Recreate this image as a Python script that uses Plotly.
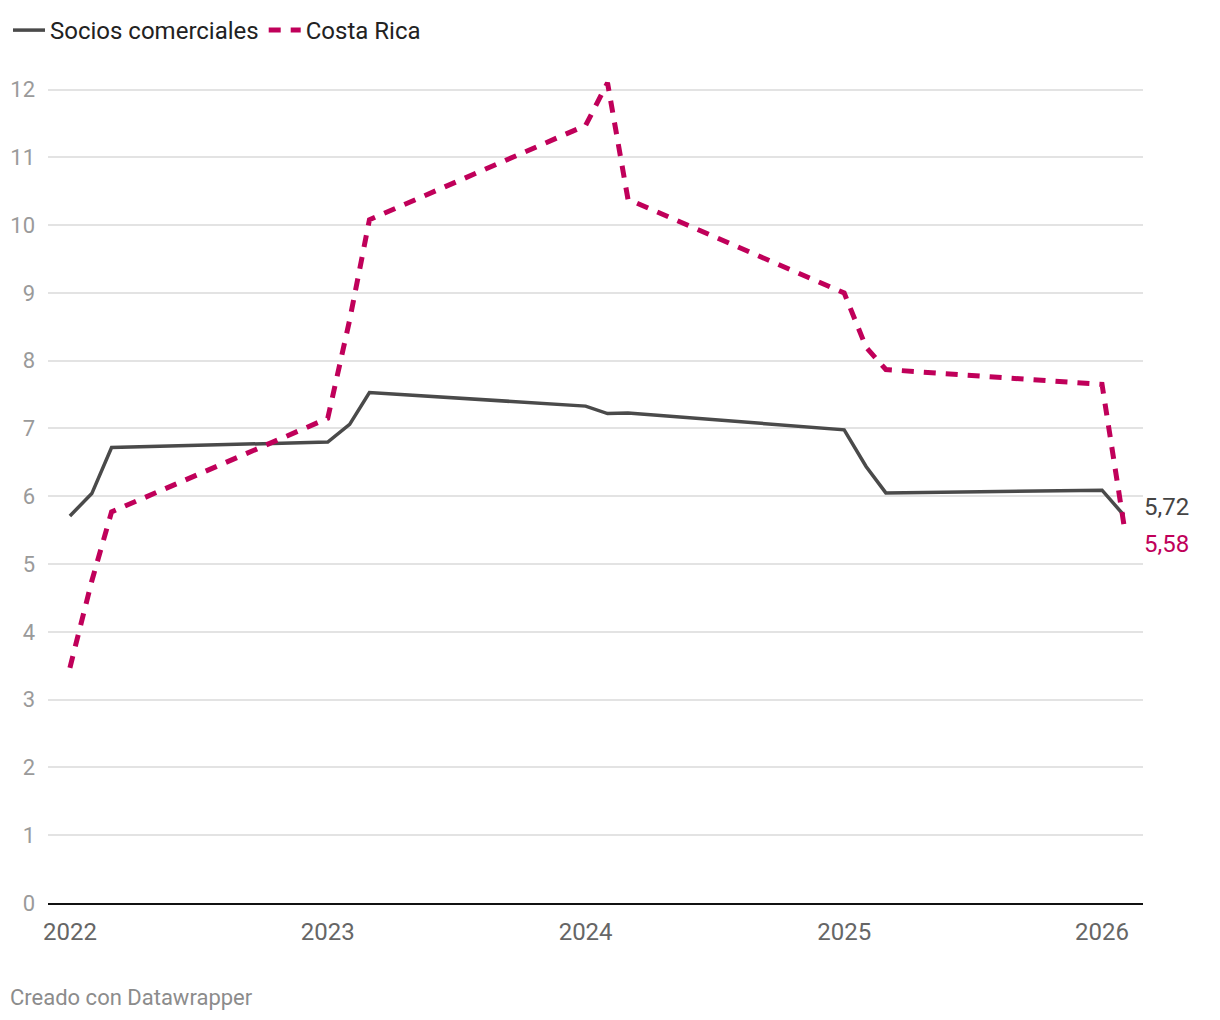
import plotly.graph_objects as go

fechas = ["2022-01-01", "2022-02-01", "2022-03-01",
          "2023-01-01", "2023-02-01", "2023-03-01",
          "2024-01-01", "2024-02-01", "2024-03-01",
          "2025-01-01", "2025-02-01", "2025-03-01",
          "2026-01-01", "2026-02-01"]
socios = [5.71, 6.04, 6.72, 6.80, 7.06, 7.53, 7.33, 7.22, 7.23, 6.98, 6.44, 6.05, 6.09, 5.72]
costa_rica = [3.47, 4.75, 5.77, 7.15, 8.6, 10.08, 11.47, 12.1, 10.38, 9.0, 8.2, 7.87, 7.65, 5.58]

y_ticks = list(range(0, 13))
x_ticks = ["2022-01-01", "2023-01-01", "2024-01-01", "2025-01-01", "2026-01-01"]
x_tick_labels = ["2022", "2023", "2024", "2025", "2026"]

GRAY = "#4a4a4a"
RED = "#c0005a"
FONT = "Roboto"

W, H = 1204, 1004
L, R, T, B = 40, 69, 68, 109
plot_w = W - L - R
plot_h = H - T - B

fig = go.Figure()
fig.add_trace(go.Scatter(x=fechas, y=socios, mode="lines", name="Socios comerciales",
                         line=dict(color=GRAY, width=3.5)))
fig.add_trace(go.Scatter(x=fechas, y=costa_rica, mode="lines", name="Costa Rica",
                         line=dict(color=RED, width=5, dash="12px,10px")))

fig.add_annotation(x=fechas[-1], y=socios[-1], text="5,72", showarrow=False,
                   xanchor="left", yanchor="middle", xshift=18, yshift=8,
                   font=dict(family=FONT, size=24, color="#444444"))
fig.add_annotation(x=fechas[-1], y=costa_rica[-1], text="5,58", showarrow=False,
                   xanchor="left", yanchor="middle", xshift=18, yshift=-19,
                   font=dict(family=FONT, size=24, color=RED))

# footer (page y ~997)
fig.add_annotation(x=(0 - L) / plot_w, y=-((997 - 8) - (H - B)) / plot_h,
                   xref="paper", yref="paper", text="Creado con Datawrapper",
                   showarrow=False, xanchor="left", yanchor="middle",
                   font=dict(family=FONT, size=22, color="#8c8c8c"))

fig.update_layout(
    width=W, height=H,
    margin=dict(l=L, r=R, t=T, b=B, autoexpand=False),
    paper_bgcolor="white", plot_bgcolor="white",
    font=dict(family=FONT, size=24, color="#222222"),
    showlegend=True,
    legend=dict(orientation="h", xref="container", yref="container", x=-5 / W, y=1.0,
                xanchor="left", yanchor="top", font=dict(family=FONT, size=24, color="#222222"),
                itemwidth=32, bgcolor="rgba(0,0,0,0)"),
    hovermode=False,
)

fig.update_xaxes(type="date", range=["2021-12-01", "2026-02-28"],
                 tickvals=x_ticks, ticktext=x_tick_labels,
                 showgrid=False, zeroline=False, automargin=False,
                 showline=True, linecolor="#111111", linewidth=2,
                 ticks="", ticklabelstandoff=6,
                 tickfont=dict(family=FONT, size=24, color="#666666"))
fig.update_yaxes(range=[0, 12.2], tickvals=y_ticks, ticktext=[str(v) for v in y_ticks],
                 showgrid=True, gridcolor="#e3e3e3", gridwidth=1.5, automargin=False,
                 zeroline=False, showline=False, ticks="", ticklabelstandoff=12,
                 tickfont=dict(family=FONT, size=22, color="#9a9a9a"))

fig.write_html("out.html")
